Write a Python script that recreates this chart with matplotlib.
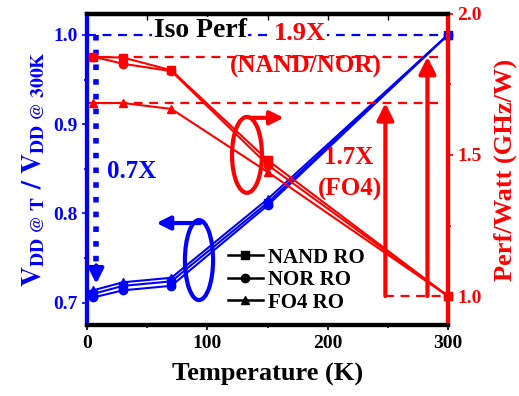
import matplotlib
matplotlib.use('Agg')
import matplotlib.pyplot as plt
from matplotlib.patches import Ellipse
from matplotlib.lines import Line2D

plt.rcParams['font.family'] = 'Liberation Serif'
plt.rcParams['font.weight'] = 'bold'
plt.rcParams['axes.labelweight'] = 'bold'
plt.rcParams['mathtext.fontset'] = 'stix'

# данні
temps = [5, 30, 70, 150, 300]
vdd_nand = [0.710, 0.719, 0.724, 0.812, 1.0]
vdd_nor = [0.706, 0.714, 0.719, 0.809, 1.0]
vdd_fo4 = [0.714, 0.723, 0.728, 0.816, 1.0]
ppw_nand = [1.848, 1.845, 1.800, 1.482, 1.0]
ppw_nor = [1.848, 1.823, 1.797, 1.465, 1.0]
ppw_fo4 = [1.684, 1.684, 1.663, 1.440, 1.0]
series_names = ['NAND RO', 'NOR RO', 'FO4 RO']
series_markers = ['s', 'o', '^']

blue = '#0000ff'
red = '#ff0000'

fig = plt.figure(figsize=(5.19, 3.96), dpi=100)
ax = fig.add_axes([0.168, 0.179, 0.695, 0.786])
ax2 = ax.twinx()

for vals, m in zip([vdd_nand, vdd_nor, vdd_fo4], series_markers):
    ax.plot(temps, vals, color=blue, marker=m, ms=6, lw=1.5, zorder=3, clip_on=False)
for vals, m in zip([ppw_nand, ppw_nor, ppw_fo4], series_markers):
    ax2.plot(temps, vals, color=red, marker=m, ms=6, lw=1.5, zorder=3, clip_on=False)

ax.set_xlim(0, 300)
ax.set_ylim(0.675, 1.0235)
ax2.set_ylim(0.897, 2.0)

# пунктирні лінії
dash = (0, (4, 3))
ax.plot([0, 300], [1.0, 1.0], color=blue, ls=dash, lw=1.6)
ax2.plot([0, 293], [ppw_nand[0], ppw_nand[0]], color=red, ls=dash, lw=1.6)
ax2.plot([0, 293], [ppw_fo4[0], ppw_fo4[0]], color=red, ls=dash, lw=1.6)
ax2.plot([248, 300], [1.0, 1.0], color=red, ls=dash, lw=1.6)

# синя стрілка 0.7X
ax.plot([7.5, 7.5], [1.0, 0.74], color=blue, ls=':', lw=4)
ax.annotate('', xy=(7.5, 0.718), xytext=(7.5, 0.745),
            arrowprops=dict(arrowstyle='-|>', color=blue, lw=3, mutation_scale=22))

# червоні стрілки
ax2.annotate('', xy=(248, ppw_fo4[0]), xytext=(248, 1.0),
             arrowprops=dict(arrowstyle='-|>', color=red, lw=3, mutation_scale=25, shrinkA=0, shrinkB=0))
ax2.annotate('', xy=(283, ppw_nand[0]), xytext=(283, 1.0),
             arrowprops=dict(arrowstyle='-|>', color=red, lw=3, mutation_scale=25, shrinkA=0, shrinkB=0))

# еліпси зі стрілками
ax.add_patch(Ellipse((0.443, 0.547), 0.083, 0.244, transform=ax.transAxes,
                     fill=False, ec=red, lw=3, zorder=4))
ax.annotate('', xy=(0.545, 0.666), xytext=(0.452, 0.666), xycoords='axes fraction',
            arrowprops=dict(arrowstyle='-|>', color=red, lw=3, mutation_scale=20, shrinkA=0, shrinkB=0))
ax.add_patch(Ellipse((0.310, 0.209), 0.078, 0.257, transform=ax.transAxes,
                     fill=False, ec=blue, lw=3, zorder=4))
ax.annotate('', xy=(0.192, 0.328), xytext=(0.313, 0.328), xycoords='axes fraction',
            arrowprops=dict(arrowstyle='-|>', color=blue, lw=3, mutation_scale=20, shrinkA=0, shrinkB=0))

# підписи
ax.text(0.313, 0.945, 'Iso Perf', transform=ax.transAxes, ha='center', va='center',
        fontsize=20, color='black', zorder=5,
        bbox=dict(fc='white', ec='none', pad=1))
ax.text(0.59, 0.936, '1.9X', transform=ax.transAxes, ha='center', va='center',
        fontsize=19, color=red, zorder=5, bbox=dict(fc='white', ec='none', pad=1))
ax.text(0.607, 0.83, '(NAND/NOR)', transform=ax.transAxes, ha='center', va='center',
        fontsize=18, color=red, zorder=5)
ax.text(0.726, 0.54, '1.7X', transform=ax.transAxes, ha='center', va='center',
        fontsize=18, color=red, zorder=5)
ax.text(0.728, 0.437, '(FO4)', transform=ax.transAxes, ha='center', va='center',
        fontsize=18, color=red, zorder=5)
ax.text(0.122, 0.495, '0.7X', transform=ax.transAxes, ha='center', va='center',
        fontsize=18, color=blue, zorder=5)

# легенда
handles = [Line2D([], [], color='black', marker=m, ms=6, lw=1.8) for m in series_markers]
ax.legend(handles, series_names, loc='lower left', bbox_to_anchor=(0.355, 0.0),
          frameon=False, fontsize=15, handlelength=1.7, labelspacing=0.12,
          handletextpad=0.25, borderaxespad=0.2)

# осі
ax.set_xlabel('Temperature (K)', fontsize=19, labelpad=8)
ax.set_ylabel(r'$\mathbf{V_{DD\ @\ T}\ /\ V_{DD\ @\ 300K}}$', fontsize=20, color=blue, labelpad=4)
ax2.set_ylabel('Perf/Watt (GHz/W)', fontsize=19, color=red, labelpad=8)

ax.set_xticks([0, 100, 200, 300])
ax.set_xticks([50, 150, 250], minor=True)
ax.set_yticks([0.7, 0.8, 0.9, 1.0])
ax.set_yticks([0.75, 0.85, 0.95], minor=True)
ax2.set_yticks([1.0, 1.5, 2.0])
ax2.set_yticks([1.25, 1.75], minor=True)

ax.tick_params(axis='x', which='both', direction='out', top=False, labelsize=14, width=1.2)
ax.tick_params(axis='y', which='both', colors=blue, labelsize=14, width=1.2)
ax2.tick_params(axis='y', which='both', colors=red, labelsize=14, width=1.2)

# верхні тики всередину
top = ax.secondary_xaxis('top')
top.set_xticks([0, 50, 100, 150, 200, 250, 300])
top.tick_params(axis='x', direction='in', length=4, width=1, labeltop=False)
top.spines['top'].set_linewidth(3)

for a in (ax, ax2):
    a.spines['top'].set_linewidth(3)
    a.spines['bottom'].set_linewidth(3)
    a.spines['left'].set_linewidth(3)
    a.spines['right'].set_linewidth(3)
    a.spines['left'].set_color(blue)
    a.spines['right'].set_color(red)

for lab in ax.get_xticklabels() + ax.get_yticklabels() + ax2.get_yticklabels():
    lab.set_fontweight('bold')

fig.savefig('out.png', dpi=100)
